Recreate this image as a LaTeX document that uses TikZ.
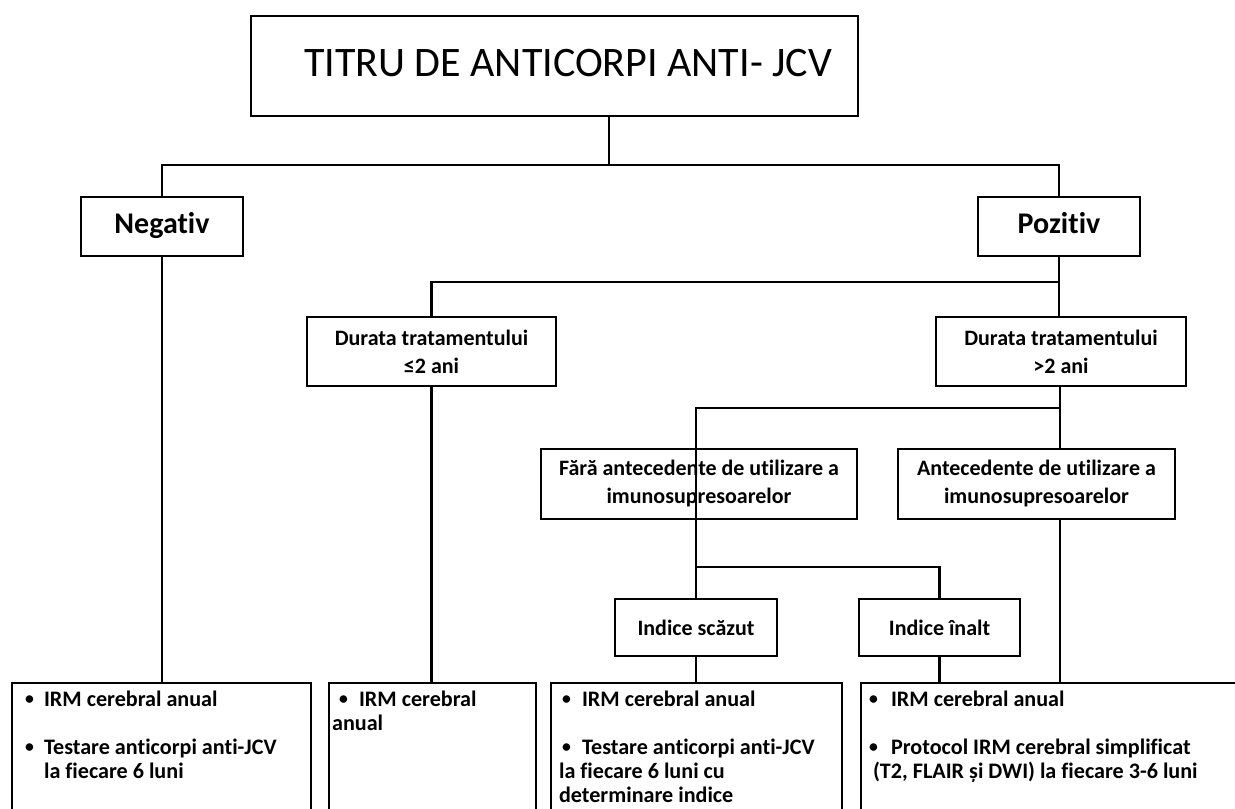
\documentclass[tikz,border=0pt]{standalone}
\usepackage{fontspec}
\setmainfont{Carlito}[Ligatures=NoCommon]
\newcommand{\bul}[1]{\makebox[#1][l]{\raisebox{1.6pt}{\scalebox{0.8}{•}}}}
\begin{document}
\begin{tikzpicture}[x=0.75pt,y=-0.75pt,line width=1.6pt,
  box/.style={draw,line width=1.6pt,inner sep=0pt,align=center,
    font=\bfseries\fontsize{16.5}{21}\selectfont},
  bigbox/.style={box,font=\bfseries\fontsize{22.5}{26}\selectfont,text height=15pt,text depth=4pt},
  outbox/.style={draw,line width=1.6pt,inner sep=0pt,anchor=north west,minimum height=120pt},
  txt/.style={inner sep=0pt,anchor=north west,align=left,
    font=\bfseries\fontsize{16.6}{18}\selectfont},
  conn/.style={line width=1.6pt}]
\clip (0,0) rectangle (1235,809);
\fill[white] (0,0) rectangle (1235,809);
% title
\node[draw,line width=1.6pt,inner sep=0pt,minimum width=455.25pt,minimum height=75pt] (title) at (554.5,66) {};
\node[inner sep=0pt,anchor=base west,font=\fontsize{31.5}{36}\selectfont] (tt) at (303,77) {TITRU DE ANTICORPI ANTI- JCV};
% level 1
\node[bigbox,minimum width=121.5pt,minimum height=44.25pt] (neg) at (162,226.5) {Negativ};
\node[bigbox,minimum width=121.5pt,minimum height=44.25pt] (pos) at (1059,226.5) {Pozitiv};
% level 2
\node[box,minimum width=186.75pt,minimum height=51.75pt] (d1) at (431.5,351.5) {Durata tratamentului\\≤2 ani};
\node[box,minimum width=187.5pt,minimum height=51.75pt] (d2) at (1061,351.5) {Durata tratamentului\\>2 ani};
% level 3
\node[box,minimum width=237pt,minimum height=52.5pt] (fara) at (699,484) {Fără antecedente de utilizare a\\imunosupresoarelor};
\node[box,minimum width=207.75pt,minimum height=52.5pt] (ante) at (1036.5,484) {Antecedente de utilizare a\\imunosupresoarelor};
% level 4
\node[box,minimum width=121.5pt,minimum height=42.75pt] (isc) at (696,627.5) {Indice scăzut};
\node[box,minimum width=120.75pt,minimum height=42.75pt] (ina) at (939.5,627.5) {Indice înalt};
% bottom boxes (open at the bottom)
\node[outbox,minimum width=224.25pt] (b1) at (11,682) {};
\node[outbox,minimum width=155.25pt] (b2) at (328,682) {};
\node[outbox,minimum width=218.25pt] (b3) at (550,682) {};
\node[outbox,minimum width=300pt] (b4) at (860,682) {};
\node[txt] (t1) at (24,690) {\bul{14.25pt}IRM cerebral anual\\[18pt]
  \bul{14.25pt}Testare anticorpi anti-JCV\\\hspace*{14.25pt}la fiecare 6 luni};
\node[txt] (t2) at (331,690) {\hspace*{5.25pt}\bul{15pt}IRM cerebral\\anual};
\node[txt] (t3) at (558,690) {\hspace*{2.25pt}\bul{15pt}IRM cerebral anual\\[18pt]
  \hspace*{2.25pt}\bul{15pt}Testare anticorpi anti-JCV\\la fiecare 6 luni cu\\determinare indice};
\node[txt] (t4) at (868,690) {\bul{16.5pt}IRM cerebral anual\\[18pt]
  \bul{16.5pt}Protocol IRM cerebral simplificat\\\hspace*{3pt}(T2, FLAIR și DWI) la fiecare 3-6 luni};
% connectors
\coordinate (j0) at (609,165);
\coordinate (j1) at (1059,282);
\coordinate (j2) at (1060,408);
\coordinate (j3) at (696,567);
\draw[conn] (j0 |- title.south) -- (j0);
\draw[conn] (neg.north) |- (j0) -| (pos.north);
\draw[conn] (neg.south) -- (neg.south |- b1.north);
\draw[conn] (pos.south) -- (j1) -| (d1.north);
\draw[conn] (j1) -- (j1 |- d2.north);
\draw[conn] (d1.south) -- (d1.south |- b2.north);
\draw[conn] (j2 |- d2.south) -- (j2 |- ante.north);
\draw[conn] (j2) -| (fara.south -| j3);
\draw[conn] (j3 |- fara.south) -- (j3 |- isc.north);
\draw[conn] (j3) -| (ina.north);
\draw[conn] (isc.south) -- (isc.south |- b3.north);
\draw[conn] (ina.south) -- (ina.south |- b4.north);
\draw[conn] (j2 |- ante.south) -- (j2 |- b4.north);
\end{tikzpicture}
\end{document}
